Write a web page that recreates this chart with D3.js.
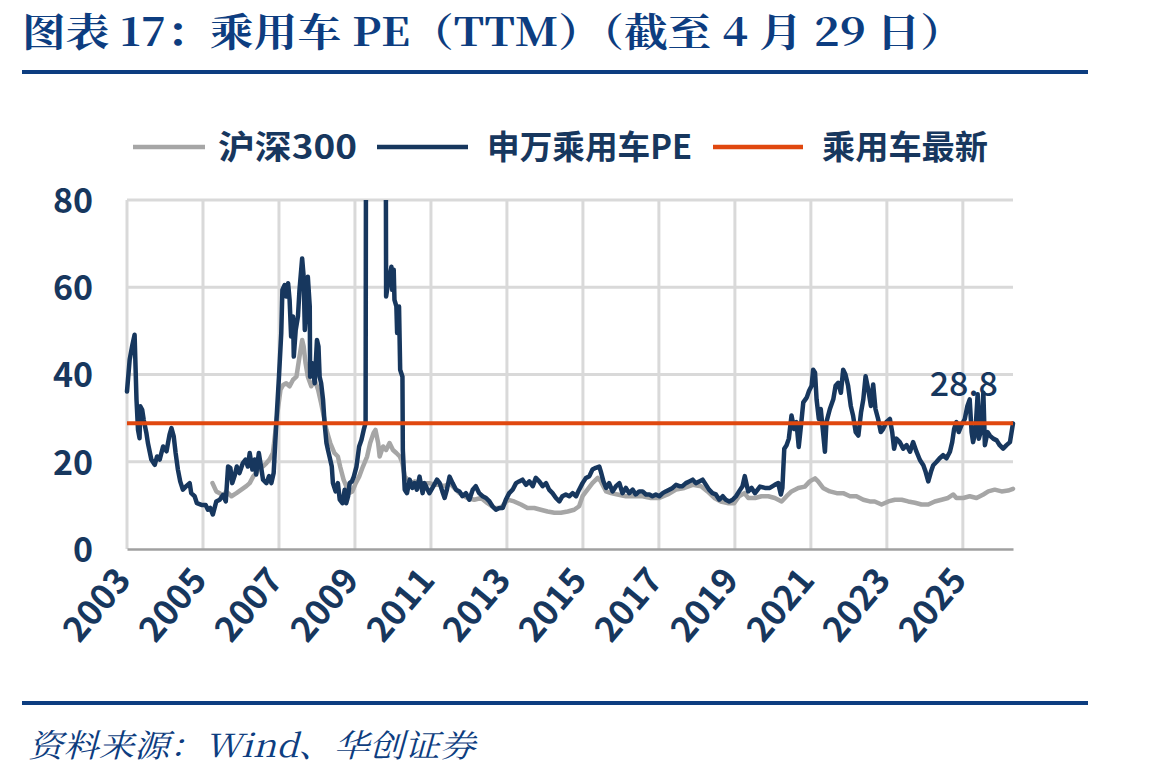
<!DOCTYPE html>
<html>
<head>
<meta charset="utf-8">
<script src="https://cdn.jsdelivr.net/npm/d3@7"></script>
<style>
body { margin: 0; background: #fff; }
svg { display: block; }
</style>
</head>
<body>
<script>
/* 申万乘用车PE (TTM): decimal year and value */
var peYears = [2003.00,2003.07,2003.14,2003.20,2003.25,2003.29,2003.33,2003.35,2003.40,2003.44,2003.51,2003.55,2003.64,2003.73,2003.79,2003.86,2003.95,
  2004.04,2004.12,2004.17,2004.23,2004.28,2004.34,2004.40,2004.47,2004.56,2004.65,2004.69,2004.78,2004.84,2004.96,
  2005.07,2005.13,2005.19,2005.26,2005.35,2005.44,2005.53,2005.60,2005.66,2005.72,2005.77,2005.83,2005.89,2005.96,
  2006.05,2006.12,2006.18,2006.23,2006.30,2006.36,2006.40,2006.47,2006.54,2006.58,2006.67,2006.74,2006.80,2006.86,2006.93,
  2007.00,2007.06,2007.09,2007.15,2007.19,2007.24,2007.28,2007.32,2007.37,2007.39,2007.44,2007.50,2007.54,2007.61,2007.65,2007.68,2007.72,2007.76,2007.81,2007.82,2007.88,2007.94,
  2008.00,2008.04,2008.07,2008.11,2008.16,2008.20,2008.25,2008.29,2008.33,2008.39,2008.42,2008.49,2008.55,2008.60,2008.67,2008.73,2008.77,2008.82,2008.86,2008.92,2008.97,
  2009.04,2009.11,2009.17,2009.23,2009.28,2009.30,2009.80,2009.82,2009.87,2009.91,2009.96,2009.98,
  2010.02,2010.04,2010.09,2010.11,2010.16,2010.19,2010.22,2010.25,2010.26,2010.31,2010.37,2010.44,2010.51,2010.57,2010.63,2010.70,2010.78,2010.83,2010.89,2010.96,
  2011.04,2011.11,2011.16,2011.23,2011.30,2011.36,2011.42,2011.49,2011.57,2011.66,2011.75,2011.83,2011.92,
  2012.01,2012.10,2012.18,2012.27,2012.36,2012.45,2012.54,2012.62,2012.71,2012.80,2012.89,2012.97,
  2013.06,2013.15,2013.24,2013.32,2013.41,2013.50,2013.59,2013.68,2013.76,2013.85,2013.94,
  2014.03,2014.11,2014.20,2014.29,2014.38,2014.46,2014.55,2014.64,2014.73,2014.82,2014.90,2014.99,
  2015.08,2015.17,2015.25,2015.34,2015.43,2015.47,2015.54,2015.61,2015.69,2015.78,2015.87,2015.96,
  2016.04,2016.13,2016.22,2016.31,2016.39,2016.48,2016.57,2016.66,2016.75,2016.83,2016.92,
  2017.01,2017.10,2017.18,2017.27,2017.36,2017.45,2017.54,2017.62,2017.71,2017.80,2017.89,2017.97,
  2018.06,2018.15,2018.24,2018.32,2018.41,2018.50,2018.59,2018.68,2018.76,2018.85,2018.94,
  2019.03,2019.11,2019.20,2019.26,2019.35,2019.44,2019.53,2019.66,2019.79,2019.92,
  2020.05,2020.14,2020.21,2020.25,2020.30,2020.36,2020.42,2020.49,2020.56,2020.62,2020.68,2020.74,2020.80,2020.89,2020.95,
  2021.02,2021.06,2021.11,2021.15,2021.21,2021.26,2021.32,2021.37,2021.41,2021.50,2021.59,2021.65,2021.72,2021.79,2021.85,2021.91,2021.98,
  2022.05,2022.11,2022.18,2022.25,2022.32,2022.38,2022.44,2022.51,2022.58,2022.64,2022.70,2022.77,2022.84,2022.90,2022.99,
  2023.08,2023.14,2023.19,2023.25,2023.34,2023.43,2023.52,2023.61,2023.69,2023.78,2023.87,2023.96,
  2024.02,2024.09,2024.16,2024.22,2024.31,2024.39,2024.48,2024.57,2024.66,2024.72,2024.77,2024.83,2024.89,2024.96,
  2025.05,2025.12,2025.18,2025.23,2025.27,2025.33,2025.39,2025.42,2025.47,2025.54,2025.58,2025.65,2025.71,2025.80,2025.89,2025.97,
  2026.06,2026.15,2026.24,2026.32];
var peValues = [36.1,43.4,46.7,49.1,34.2,27.3,25.4,32.7,31.9,29.6,26.6,24.3,20.5,19.3,21.2,20.5,23.5,
  22.4,26.2,27.7,25.8,22.0,18.2,15.5,13.6,14.4,15.1,12.8,12.1,10.5,10.1,
  10.1,9.0,9.4,7.9,10.9,11.3,12.4,10.9,18.9,18.6,15.1,16.7,18.9,17.4,
  19.7,20.5,18.9,22.0,18.2,20.5,17.1,22.0,18.2,15.9,15.1,16.7,15.1,17.4,28.9,
  39.5,49.5,59.4,60.5,57.9,60.9,57.1,48.7,53.3,44.1,50.2,53.3,59.4,66.6,62.4,50.2,54.8,62.4,55.6,39.5,42.6,38.0,
  47.9,46.4,39.5,38.0,34.2,28.9,24.3,22.7,21.2,18.9,15.1,13.2,15.1,11.3,10.5,13.6,10.5,12.1,15.1,15.5,16.6,
  18.9,23.5,25.0,27.3,28.9,150,140,57.9,60.9,62.4,64.7,59.4,
  64.0,57.1,55.6,49.5,55.6,41.1,40.3,39.5,22.7,13.6,12.8,15.9,14.0,15.1,13.6,16.6,12.8,15.1,14.0,12.8,
  14.0,15.1,15.9,15.1,13.2,11.7,13.6,16.6,15.1,13.6,13.2,12.1,12.8,
  11.3,13.6,14.4,12.8,12.1,11.7,10.9,9.8,9.0,9.4,9.4,11.3,
  12.8,13.6,15.1,15.5,15.9,14.7,15.5,14.4,16.3,15.5,14.4,
  15.1,13.6,12.8,11.7,10.9,12.1,12.5,12.1,12.8,12.1,13.6,15.1,
  16.3,16.7,18.2,18.6,18.9,17.8,15.5,14.0,15.1,13.2,14.4,15.1,
  12.8,14.0,12.8,13.6,12.5,13.2,13.2,12.5,12.5,12.1,12.5,
  12.1,12.8,13.2,13.6,14.0,14.7,14.4,14.4,15.1,15.5,15.9,15.1,
  15.5,15.9,14.7,13.6,12.8,12.5,11.3,12.1,11.3,10.9,11.3,
  12.1,13.2,14.4,16.7,13.2,14.0,12.8,14.3,14.0,14.0,
  14.7,15.1,12.5,14.0,23.0,23.8,25.3,30.6,27.5,29.1,23.4,28.3,33.6,34.7,36.2,
  37.4,41.1,40.4,34.3,29.8,32.1,26.8,22.3,29.1,32.1,34.3,37.4,38.1,35.8,41.1,40.0,37.4,
  32.8,30.6,26.8,26.0,31.3,34.3,39.6,36.6,32.8,37.7,32.1,29.8,26.8,27.5,29.1,
  29.8,26.8,23.0,25.3,24.5,23.0,23.8,22.3,24.5,22.3,20.4,19.2,
  17.7,15.5,17.7,19.2,20.0,20.8,21.5,20.8,22.3,24.5,27.5,29.1,26.8,28.3,
  29.8,32.8,34.3,26.8,24.5,26.8,35.5,25.3,26.8,35.8,23.8,26.8,26.0,25.3,24.9,23.8,
  23.0,23.8,24.5,28.8];

/* 沪深300 PE */
var hsYears = [2005.25,2005.35,2005.44,2005.53,2005.61,2005.75,2005.88,2006.01,2006.14,2006.23,2006.32,2006.40,2006.49,2006.58,2006.67,2006.75,2006.84,2006.91,2006.97,
  2007.04,2007.11,2007.19,2007.28,2007.37,2007.46,2007.54,2007.61,2007.65,2007.70,2007.76,2007.85,2007.94,
  2008.03,2008.11,2008.18,2008.25,2008.35,2008.46,2008.55,2008.61,2008.70,2008.77,2008.84,2008.93,
  2009.02,2009.11,2009.21,2009.32,2009.40,2009.49,2009.54,2009.61,2009.65,2009.74,2009.82,2009.91,
  2010.00,2010.09,2010.18,2010.25,2010.31,2010.39,2010.48,2010.57,2010.70,2010.83,2010.96,
  2011.10,2011.23,2011.36,2011.49,2011.75,2011.96,2012.14,2012.32,2012.49,2012.67,2012.84,
  2013.02,2013.19,2013.37,2013.54,2013.72,2013.89,2014.07,2014.25,2014.42,2014.60,2014.77,2014.90,2014.99,
  2015.12,2015.25,2015.39,2015.47,2015.61,2015.74,2015.91,2016.13,2016.35,2016.57,2016.79,
  2017.01,2017.23,2017.45,2017.67,2017.89,2018.11,2018.28,2018.46,2018.63,2018.81,2018.98,
  2019.11,2019.25,2019.35,2019.53,2019.70,2019.88,2020.05,2020.23,2020.36,2020.49,2020.67,2020.84,2020.97,
  2021.11,2021.19,2021.32,2021.50,2021.68,2021.85,2022.03,2022.20,2022.38,2022.55,2022.68,2022.86,
  2023.04,2023.21,2023.39,2023.56,2023.74,2023.91,2024.09,2024.26,2024.44,2024.61,2024.75,2024.83,
  2025.01,2025.18,2025.36,2025.54,2025.67,2025.84,2026.02,2026.19,2026.32];
var hsValues = [15.1,13.2,12.8,12.1,13.2,12.1,12.8,13.6,14.4,15.1,16.6,17.4,18.9,18.9,19.7,20.5,22.0,27.3,31.9,
  36.5,37.6,38.0,37.3,38.8,39.5,44.1,47.9,46.4,42.6,39.5,37.3,38.8,
  36.5,33.4,30.4,27.3,24.3,22.0,21.2,18.9,15.9,14.4,12.8,13.2,
  15.1,16.6,18.9,21.2,24.3,26.6,27.3,24.3,21.2,23.5,22.7,24.3,
  22.7,22.0,21.2,19.7,16.6,15.9,15.1,15.5,15.1,15.1,15.1,
  14.7,14.7,14.4,15.1,12.8,11.7,11.3,11.7,10.5,9.4,9.4,
  11.3,10.9,10.2,9.4,9.4,9.0,8.6,8.3,8.3,8.6,9.0,9.8,12.1,
  13.6,15.1,16.3,15.5,13.2,12.8,12.5,12.1,12.1,12.1,11.7,
  11.7,12.5,13.6,14.0,14.7,14.4,13.2,11.7,10.9,10.5,10.5,
  12.1,12.8,11.7,11.7,12.1,12.1,11.7,10.9,12.1,13.2,14.0,14.3,15.5,
  16.2,15.5,14.0,13.2,12.8,12.8,12.1,12.1,11.3,10.9,10.9,10.2,
  10.9,11.3,11.3,10.9,10.6,10.2,10.2,10.9,11.3,11.7,12.5,11.7,
  11.7,12.1,11.7,12.5,13.2,13.6,13.2,13.4,13.8];

var latestPE = 28.8;
var yearTicks = [2003,2005,2007,2009,2011,2013,2015,2017,2019,2021,2023,2025];
var valueTicks = [0,20,40,60,80];
var seriesNames = ["沪深300", "申万乘用车PE", "乘用车最新"];
var titleText = "图表 17：乘用车 PE（TTM）（截至 4 月 29 日）";
var sourceText = "资料来源：Wind、华创证券";

var W = 1149, H = 779;
var navy = "#17375e", grey = "#a6a6a6", red = "#e0480f", titleBlue = "#0d3d80";
var cjk = "'Noto Sans CJK SC', 'Noto Sans', sans-serif";

var svg = d3.select("body").append("svg").attr("width", W).attr("height", H);

/* title, rules and source */
svg.append("text")
    .attr("x", 22).attr("y", 46)
    .attr("textLength", 942).attr("lengthAdjust", "spacingAndGlyphs")
    .style("font", "bold 39px 'Noto Serif CJK SC', 'Liberation Serif', 'Noto Sans CJK SC', serif")
    .attr("fill", titleBlue)
    .text(titleText);

svg.append("line").attr("x1", 22).attr("x2", 1088).attr("y1", 72).attr("y2", 72)
    .attr("stroke", titleBlue).attr("stroke-width", 4);
svg.append("line").attr("x1", 22).attr("x2", 1088).attr("y1", 703).attr("y2", 703)
    .attr("stroke", titleBlue).attr("stroke-width", 4);

svg.append("text")
    .attr("x", 28).attr("y", 757)
    .attr("textLength", 447).attr("lengthAdjust", "spacingAndGlyphs")
    .style("font", "italic 32px 'Noto Serif CJK SC', 'Liberation Serif', 'Noto Sans CJK SC', serif")
    .attr("fill", titleBlue)
    .text(sourceText);

/* plot area */
var x = d3.scaleLinear().domain([2003, 2026.32]).range([127, 1013]);
var y = d3.scaleLinear().domain([0, 80]).range([549, 200]);

svg.append("defs").append("clipPath").attr("id", "plotclip")
  .append("rect").attr("x", 120).attr("y", 200).attr("width", 900).attr("height", 360);

var grid = svg.append("g");
grid.selectAll(".hgrid").data(valueTicks.slice(1)).enter().append("line")
    .attr("x1", x.range()[0]).attr("x2", x.range()[1])
    .attr("y1", function(d) { return y(d); }).attr("y2", function(d) { return y(d); })
    .attr("stroke", "#d9d9d9").attr("stroke-width", 3);
grid.selectAll(".vgrid").data(yearTicks).enter().append("line")
    .attr("x1", function(d) { return x(d); }).attr("x2", function(d) { return x(d); })
    .attr("y1", y(80)).attr("y2", y(0))
    .attr("stroke", "#d9d9d9").attr("stroke-width", 3);

/* axes */
var yAxis = svg.append("g")
    .attr("transform", "translate(" + x.range()[0] + ",0)")
    .call(d3.axisLeft(y).tickValues(valueTicks).tickSize(0).tickPadding(34));
yAxis.select(".domain").remove();
yAxis.selectAll("text")
    .style("font", "bold 34px " + cjk)
    .attr("fill", navy)
    .attr("dy", "0.36em");

var xAxis = svg.append("g")
    .attr("transform", "translate(0," + y(0) + ")")
    .call(d3.axisBottom(x).tickValues(yearTicks).tickSize(0).tickFormat(d3.format("d")));
xAxis.select(".domain").attr("stroke", "#a0a0a0").attr("stroke-width", 2.5);
xAxis.selectAll("text")
    .style("font", "bold 35px " + cjk)
    .attr("fill", navy)
    .attr("text-anchor", "end")
    .attr("y", 0).attr("dy", 0)
    .attr("transform", "translate(5,32) rotate(-50)");

/* series */
var line = d3.line()
    .x(function(d) { return x(d[0]); })
    .y(function(d) { return y(d[1]); });

var hsData = d3.zip(hsYears, hsValues);
var peData = d3.zip(peYears, peValues);

var plot = svg.append("g").attr("clip-path", "url(#plotclip)");
plot.append("path").datum(hsData)
    .attr("d", line).attr("fill", "none")
    .attr("stroke", grey).attr("stroke-width", 4.5)
    .attr("stroke-linejoin", "round").attr("stroke-linecap", "round");
plot.append("path").datum(peData)
    .attr("d", line).attr("fill", "none")
    .attr("stroke", navy).attr("stroke-width", 4.5)
    .attr("stroke-linejoin", "round").attr("stroke-linecap", "round");
plot.append("line")
    .attr("x1", x.range()[0]).attr("x2", x.range()[1])
    .attr("y1", y(latestPE)).attr("y2", y(latestPE))
    .attr("stroke", red).attr("stroke-width", 4);

svg.append("text")
    .attr("x", x(peYears[peYears.length - 1]) - 15)
    .attr("y", y(latestPE) - 27)
    .attr("text-anchor", "end")
    .style("font", "500 34px " + cjk)
    .attr("fill", navy)
    .text(latestPE.toFixed(1));

/* legend */
var legendItems = [
  {name: seriesNames[0], color: grey, x1: 133, x2: 205, tx: 218, len: 139},
  {name: seriesNames[1], color: navy, x1: 377, x2: 468, tx: 487, len: 205},
  {name: seriesNames[2], color: red, x1: 713, x2: 803, tx: 822, len: 166}
];
var legend = svg.append("g");
legend.selectAll("line").data(legendItems).enter().append("line")
    .attr("x1", function(d) { return d.x1; }).attr("x2", function(d) { return d.x2; })
    .attr("y1", 147).attr("y2", 147)
    .attr("stroke", function(d) { return d.color; }).attr("stroke-width", 4.5);
legend.selectAll("text").data(legendItems).enter().append("text")
    .attr("x", function(d) { return d.tx; }).attr("y", 159)
    .attr("textLength", function(d) { return d.len; })
    .attr("lengthAdjust", "spacingAndGlyphs")
    .style("font", "bold 33px " + cjk)
    .attr("fill", navy)
    .text(function(d) { return d.name; });
</script>
</body>
</html>
